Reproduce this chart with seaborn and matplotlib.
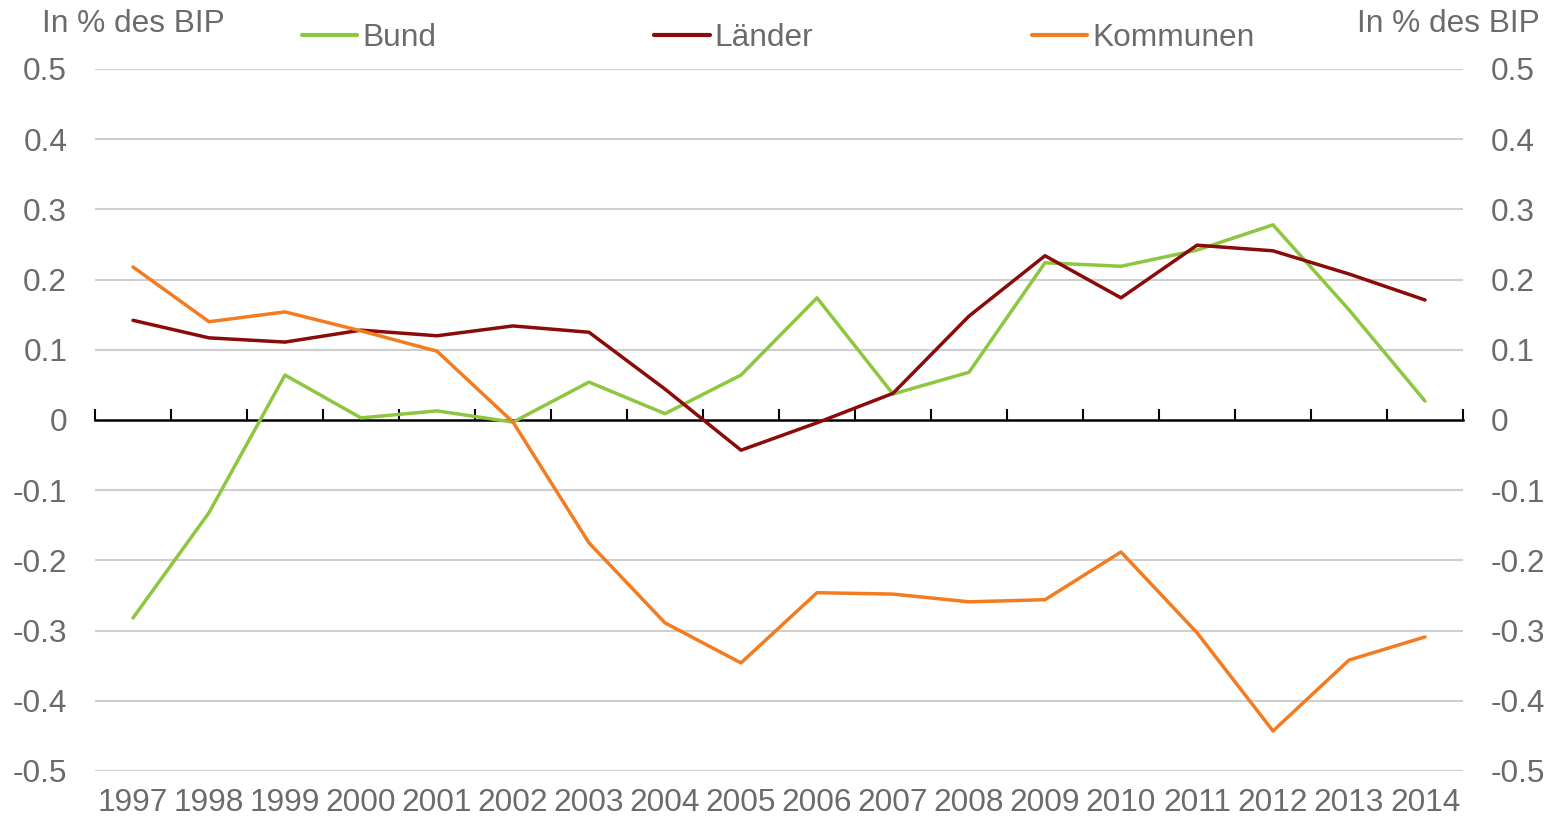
import matplotlib
matplotlib.use("Agg")
import matplotlib.pyplot as plt
import seaborn as sns
import pandas as pd
import numpy as np

# Finanzierungssaldo nach Ebenen, in % des BIP
years = list(range(1997, 2015))
bund = [-0.282, -0.132, 0.064, 0.003, 0.013, -0.003, 0.054, 0.009, 0.064,
        0.174, 0.037, 0.068, 0.224, 0.219, 0.242, 0.278, 0.157, 0.027]
laender = [0.142, 0.117, 0.111, 0.128, 0.120, 0.134, 0.125, 0.044, -0.043,
           -0.004, 0.038, 0.148, 0.234, 0.174, 0.249, 0.241, 0.208, 0.171]
kommunen = [0.218, 0.140, 0.154, 0.127, 0.098, -0.003, -0.175, -0.289, -0.346,
            -0.246, -0.248, -0.259, -0.256, -0.188, -0.303, -0.443, -0.342, -0.309]
series_names = ["Bund", "Länder", "Kommunen"]
y_ticks = [0.5, 0.4, 0.3, 0.2, 0.1, 0, -0.1, -0.2, -0.3, -0.4, -0.5]
y_label = "In % des BIP"

colors = {"Bund": "#8DC63F", "Länder": "#8B0A0A", "Kommunen": "#F47C20"}
text_color = "#6b6b6b"
fs = 22.8

df = pd.DataFrame({"Jahr": years, "Bund": bund, "Länder": laender, "Kommunen": kommunen})
long_df = df.melt(id_vars="Jahr", var_name="Ebene", value_name="Saldo")

sns.set_theme(style="white")
plt.rcParams["font.family"] = ["Liberation Sans", "DejaVu Sans"]

fig = plt.figure(figsize=(15.55, 8.16), dpi=100)
ax = fig.add_axes([95 / 1555, 45 / 816, (1463 - 95) / 1555, (771 - 69) / 816])

sns.lineplot(data=long_df, x="Jahr", y="Saldo", hue="Ebene", hue_order=series_names,
             palette=colors, linewidth=2.5, ax=ax, legend=False)

ax.set_xlim(years[0] - 0.5, years[-1] + 0.5)
ax.set_ylim(-0.5, 0.5)
ax.set_yticks(y_ticks)
ax.set_yticklabels([f"{v:g}" for v in y_ticks])
ax.set_xticks(years)
ax.set_xticklabels([str(y) for y in years])
ax.set_xlabel("")
ax.set_ylabel("")

for v in y_ticks:
    if v != 0:
        ax.axhline(v, color="#cfcfcf", linewidth=1.5, zorder=0)
for s in ax.spines.values():
    s.set_visible(False)

ax.tick_params(axis="x", length=0, pad=12, labelsize=fs, labelcolor=text_color)
ax.tick_params(axis="y", length=0, labelsize=fs, labelcolor=text_color,
               labelleft=True, labelright=True, pad=20)

# zero line with category boundary ticks pointing up
zero = ax.secondary_xaxis(0.5)
zero.set_xticks(np.arange(years[0] - 0.5, years[-1] + 1.0, 1.0))
zero.set_xticklabels([])
zero.tick_params(axis="x", direction="out", length=8, width=1.5, color="black")
for s in zero.spines.values():
    s.set_color("black")
    s.set_linewidth(1.8)

fig.text(42 / 1555, 1 - 24 / 816, y_label, ha="left", va="center",
         fontsize=fs, color=text_color)
fig.text(1540 / 1555, 1 - 24 / 816, y_label, ha="right", va="center",
         fontsize=fs, color=text_color)

handles = [plt.Line2D([], [], color=colors[n], linewidth=3) for n in series_names]
fig.legend(handles, series_names, loc="center", bbox_to_anchor=(778 / 1555, 1 - 38 / 816),
           ncol=3, frameon=False, fontsize=fs, labelcolor=text_color,
           handlelength=1.75, handletextpad=0.15, columnspacing=6.9,
           borderpad=0, borderaxespad=0)

fig.savefig("out.png", dpi=100)
